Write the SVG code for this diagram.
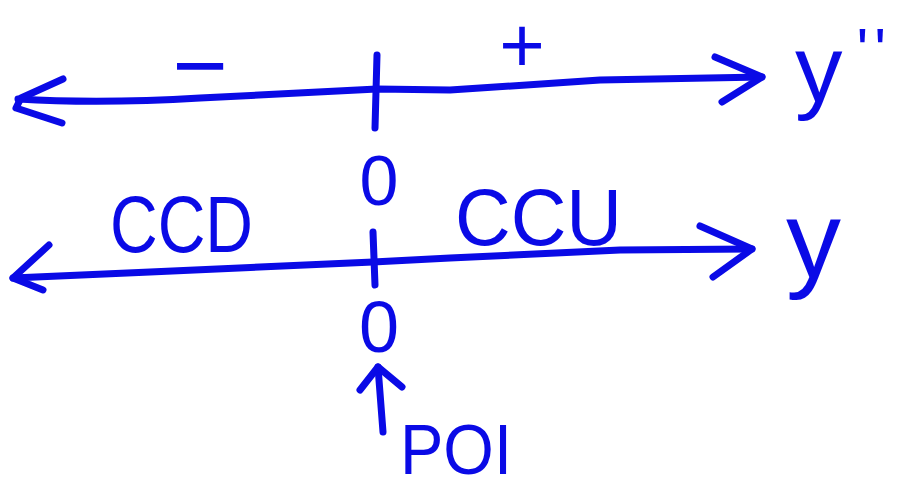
<svg xmlns="http://www.w3.org/2000/svg" width="899" height="489" viewBox="0 0 899 489">
<style>
.s{fill:none;stroke:#0a0ae6;stroke-width:7;stroke-linecap:round;stroke-linejoin:round}
.t{fill:#0a0ae6;font-family:"Liberation Sans",Arial,sans-serif}
</style>
<rect width="899" height="489" fill="#fff"/>
<g id="connectors">
<path class="s" d="M18,99 Q100,104 200,98 L377,89 L450,90 L600,80 L762,77"/>
<path class="s" d="M63,79 L21,98 L16,108 L62,123"/>
<path class="s" d="M715,57 L762,77 L722,102"/>
<path class="s" d="M377,55 L375,128"/>
<path class="s" d="M13,278 L150,272 L373,262 L450,258 L620,250 L752,249"/>
<path class="s" d="M49,245 L13,278 L43,290"/>
<path class="s" d="M700,226 L752,249 L713,277"/>
<path class="s" d="M373,232 L375,285"/>
<path class="s" d="M383,432 L378,367"/>
<path class="s" d="M360,390 L378,367 L402,387"/>
</g>
<g id="minus"><text class="t" x="200" y="98" font-size="95" text-anchor="middle">−</text></g>
<g id="plus"><text class="t" x="522" y="72" font-size="78" text-anchor="middle">+</text></g>
<g id="y2"><text class="t" x="795" y="101" font-size="95">y<tspan dx="14" dy="-30" font-size="62" letter-spacing="6">''</tspan></text></g>
<g id="zero1"><text class="t" x="379" y="205" font-size="70" text-anchor="middle">0</text></g>
<g id="ccd"><text class="t" x="110" y="252" font-size="80" textLength="143" lengthAdjust="spacingAndGlyphs">CCD</text></g>
<g id="ccu"><text class="t" x="455" y="245" font-size="80" textLength="167" lengthAdjust="spacingAndGlyphs">CCU</text></g>
<g id="y"><text class="t" x="786" y="277" font-size="110">y</text></g>
<g id="zero2"><text class="t" x="379" y="352" font-size="72" text-anchor="middle">0</text></g>
<g id="poi"><text class="t" x="400" y="474" font-size="70" textLength="112" lengthAdjust="spacingAndGlyphs">POI</text></g>
</svg>
